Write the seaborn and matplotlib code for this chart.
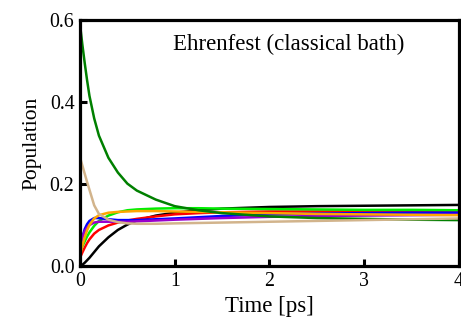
import numpy as np
import pandas as pd
import matplotlib
matplotlib.use("Agg")
import matplotlib.pyplot as plt
import seaborn as sns

# time grid (ps) and populations
time = [0, 0.025, 0.05, 0.075, 0.1, 0.15, 0.2, 0.3, 0.4, 0.5, 0.6, 0.8, 1.0, 1.25, 1.5, 2.0, 2.5, 3.0, 3.5, 4.0]

pop_black = [0.0, 0.003, 0.008, 0.014, 0.02, 0.034, 0.048, 0.07, 0.088, 0.101, 0.111, 0.123, 0.13, 0.136, 0.14, 0.144, 0.146, 0.147, 0.148, 0.149]
pop_red = [0.02, 0.033, 0.045, 0.056, 0.065, 0.079, 0.088, 0.099, 0.106, 0.111, 0.115, 0.121, 0.126, 0.129, 0.131, 0.133, 0.133, 0.133, 0.133, 0.133]
pop_lime = [0.035, 0.048, 0.06, 0.072, 0.082, 0.098, 0.11, 0.123, 0.131, 0.136, 0.138, 0.14, 0.141, 0.141, 0.14, 0.139, 0.138, 0.137, 0.137, 0.136]
pop_blue = [0.045, 0.07, 0.09, 0.102, 0.11, 0.117, 0.117, 0.114, 0.112, 0.112, 0.112, 0.114, 0.116, 0.119, 0.122, 0.126, 0.128, 0.129, 0.13, 0.13]
pop_purple = [0.05, 0.07, 0.085, 0.094, 0.1, 0.106, 0.108, 0.108, 0.108, 0.108, 0.109, 0.111, 0.113, 0.115, 0.117, 0.12, 0.122, 0.123, 0.124, 0.125]
pop_orange = [0.025, 0.05, 0.07, 0.087, 0.1, 0.116, 0.124, 0.13, 0.132, 0.133, 0.134, 0.134, 0.133, 0.132, 0.131, 0.129, 0.127, 0.126, 0.125, 0.124]
pop_green = [0.59, 0.54, 0.495, 0.453, 0.415, 0.36, 0.318, 0.264, 0.228, 0.201, 0.184, 0.162, 0.146, 0.136, 0.129, 0.121, 0.117, 0.115, 0.113, 0.112]
pop_tan = [0.265, 0.245, 0.225, 0.205, 0.186, 0.148, 0.127, 0.113, 0.107, 0.104, 0.103, 0.103, 0.104, 0.105, 0.106, 0.108, 0.11, 0.112, 0.114, 0.116]

states = ["black", "red", "lime", "blue", "purple", "orange", "green", "tan"]
series = [pop_black, pop_red, pop_lime, pop_blue, pop_purple, pop_orange, pop_green, pop_tan]
colors = ["#000000", "#ff0000", "#00ee00", "#0000ff", "#9900cc", "#ffa500", "#008000", "#d2b48c"]

df = pd.concat(
    [pd.DataFrame({"Time": time, "Population": s, "state": name}) for name, s in zip(states, series)],
    ignore_index=True,
)

sns.set_style("ticks")
plt.rcParams["font.family"] = ["Liberation Serif", "DejaVu Serif"]
plt.rcParams["text.color"] = "black"
plt.rcParams["axes.labelcolor"] = "black"
plt.rcParams["xtick.color"] = "black"
plt.rcParams["ytick.color"] = "black"
plt.rcParams["axes.edgecolor"] = "black"

fig = plt.figure(figsize=(4.61, 3.26), dpi=100)
ax = fig.add_axes([0.1735, 0.184, 0.822, 0.7546])

sns.lineplot(data=df, x="Time", y="Population", hue="state", hue_order=states,
             palette=dict(zip(states, colors)), linewidth=1.8, legend=False, ax=ax)

ax.set_xlim(0, 4)
ax.set_ylim(0, 0.6)
ax.set_xticks([0, 1, 2, 3, 4])
ax.set_yticks([0.0, 0.2, 0.4, 0.6])
ax.set_yticklabels(["0.0", "0.2", "0.4", "0.6"])
ax.tick_params(direction="in", length=5, width=2.2, labelsize=14.3, pad=4)
for sp in ax.spines.values():
    sp.set_linewidth(2.3)
    sp.set_color("black")

ax.set_xlabel("Time [ps]", fontsize=16.5, labelpad=4)
ax.set_ylabel("Population", fontsize=15.5, labelpad=6)
ax.text(0.245, 0.9, "Ehrenfest (classical bath)", transform=ax.transAxes,
        fontsize=16.5, ha="left", va="center")

fig.savefig("out.png", dpi=100)
